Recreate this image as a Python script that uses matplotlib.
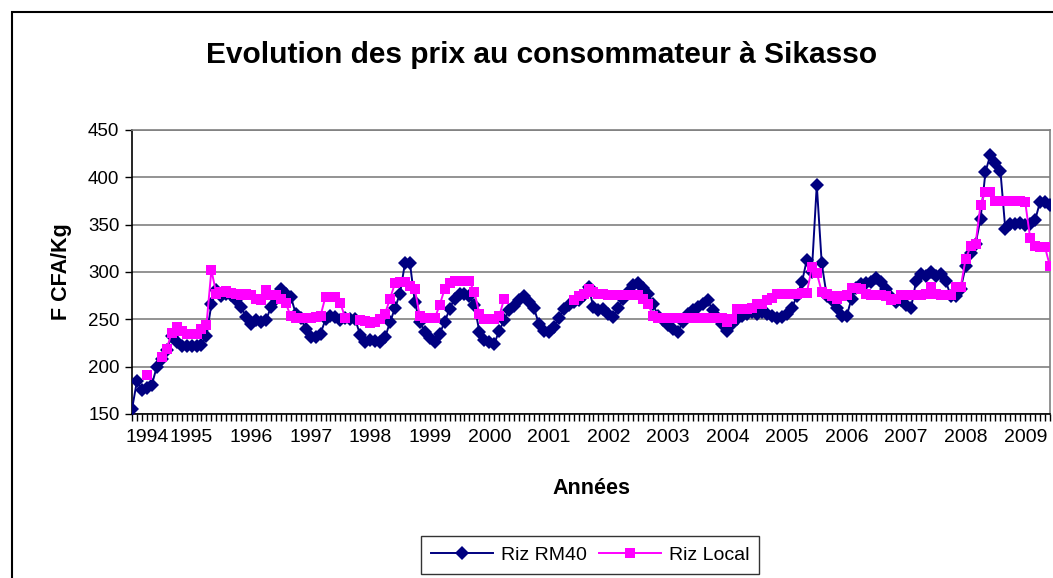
import numpy as np
import matplotlib
matplotlib.use("Agg")
import matplotlib.pyplot as plt
import matplotlib.transforms as mtransforms
from matplotlib.patches import Rectangle

nan = np.nan

years = [str(y) for y in range(1994, 2010)]

riz_rm40 = [
    155, 185, 175, 177, 181, 200, 208, 218, 232, 226, 222, 222,   # 1994
    222, 222, 223, 232, 266, 281, 275, 277, 276, 270, 263, 252,   # 1995
    245, 249, 247, 249, 263, 272, 282, 277, 274, 256, 251, 240,   # 1996
    231, 231, 235, 250, 254, 252, 249, 251, 250, 250, 233, 226,   # 1997
    228, 227, 226, 231, 247, 262, 277, 309, 310, 268, 247, 237,   # 1998
    230, 226, 235, 247, 261, 272, 277, 277, 275, 265, 237, 228,   # 1999
    226, 224, 238, 249, 260, 264, 270, 275, 268, 262, 245, 238,   # 2000
    237, 242, 251, 261, 265, 268, 270, 276, 284, 263, 260, 261,   # 2001
    256, 252, 262, 272, 279, 286, 288, 283, 277, 266, 254, 249,   # 2002
    244, 240, 237, 247, 256, 260, 263, 266, 270, 260, 251, 245,   # 2003
    238, 245, 250, 254, 256, 258, 256, 258, 256, 254, 251, 252,   # 2004
    256, 262, 275, 289, 313, 300, 392, 309, 275, 270, 262, 253,   # 2005
    253, 272, 283, 287, 288, 289, 294, 289, 282, 274, 268, 270,   # 2006
    265, 262, 290, 298, 296, 300, 296, 298, 290, 275, 275, 282,   # 2007
    306, 320, 330, 356, 406, 424, 415, 407, 345, 351, 351, 352,   # 2008
    350, 351, 355, 374, 374, 371,                                 # 2009
]

riz_local = [
    nan, nan, nan, 191, nan, nan, 210, 219, 236, 242, 238, 235,   # 1994
    234, 235, 240, 244, 302, 277, 279, 280, 278, 277, 276, 277,   # 1995
    276, 272, 270, 281, 276, 276, 272, 267, 253, 251, 251, 251,   # 1996
    251, 252, 254, 274, 274, 274, 267, 251, nan, nan, 249, 248,   # 1997
    246, 247, 250, 256, 272, 288, 289, 289, 285, 282, 253, 251,   # 1998
    251, 251, 265, 282, 288, 290, 290, 290, 290, 279, 256, 250,   # 1999
    250, 250, 253, 272, nan, nan, nan, nan, nan, nan, nan, nan,   # 2000
    nan, nan, nan, nan, nan, 270, 275, 277, 282, 279, 277, 277,   # 2001
    276, 276, 276, 276, 276, 276, 276, 271, 266, 254, 251, 251,   # 2002
    251, 251, 251, 251, 251, 251, 251, 251, 251, 251, 251, 251,   # 2003
    247, 250, 261, 261, 261, 262, 266, 266, 270, 273, 277, 277,   # 2004
    277, 277, 277, 278, 278, 305, 299, 279, 277, 275, 272, 275,   # 2005
    276, 283, 283, 282, 277, 276, 276, 276, 275, 270, 272, 276,   # 2006
    276, 276, 276, 276, 277, 284, 277, 276, 276, 276, 284, 284,   # 2007
    314, 327, 330, 371, 385, 384, 375, 375, 375, 375, 375, 375,   # 2008
    374, 336, 327, 326, 326, 306,                                 # 2009
]

series_names = ["Riz RM40", "Riz Local"]
title = "Evolution des prix au consommateur à Sikasso"
xlabel = "Années"
ylabel = "F CFA/Kg"

plt.rcParams['font.family'] = ['Liberation Sans', 'DejaVu Sans']

W, H = 1053, 578
fig = plt.figure(figsize=(W / 100, H / 100), dpi=100)

# chart area border (left and top visible)
fig.patches.append(Rectangle((12 / W, -0.1), 1.2, 1 - 12 / H + 0.1,
                             transform=fig.transFigure, fill=False,
                             edgecolor='black', linewidth=1.5))

left, right, top, bottom = 132, 1050, 130, 414
ax = fig.add_axes([left / W, 1 - bottom / H, (right - left) / W, (bottom - top) / H])

x = np.arange(len(riz_rm40))
ax.plot(x, riz_rm40, color='#000080', linewidth=1.4, marker='D',
        markersize=7, markeredgewidth=0, label=series_names[0], zorder=3)
ax.plot(x, riz_local, color='#FF00FF', linewidth=1.4, marker='s',
        markersize=7.5, markeredgewidth=0, label=series_names[1], zorder=4)

ax.set_xlim(0, len(riz_rm40) - 1)
ax.set_ylim(150, 450)
ax.set_yticks(np.arange(150, 451, 50))
ax.yaxis.grid(True, color='#808080', linewidth=1.2)
ax.set_axisbelow(True)

ax.set_xticks(np.arange(0, len(riz_rm40), 12))
ax.set_xticklabels(years[:len(range(0, len(riz_rm40), 12))])
ax.set_xticks(np.arange(0, len(riz_rm40)), minor=True)
ax.tick_params(axis='x', which='both', direction='out', length=5, width=1, colors='black',
               labelsize=14, pad=6)
ax.tick_params(axis='y', which='major', direction='out', length=5, width=1,
               labelsize=13.5, pad=4)

# shift first year label like the reference
lbls = ax.get_xticklabels()
offset = mtransforms.ScaledTranslation(15 / 100, 0, fig.dpi_scale_trans)
lbls[0].set_transform(lbls[0].get_transform() + offset)

for s in ['top', 'right']:
    ax.spines[s].set_color('#808080')
    ax.spines[s].set_linewidth(1.2)
for s in ['left', 'bottom']:
    ax.spines[s].set_color('black')
    ax.spines[s].set_linewidth(1.2)

fig.text(542 / W, 1 - 55 / H, title, ha='center', va='center',
         fontsize=21.5, fontweight='bold')
fig.text((left + right) / 2 / W, 1 - 488 / H, xlabel, ha='center', va='center',
         fontsize=15.5, fontweight='bold')
fig.text(62 / W, 1 - 272 / H, ylabel, ha='center', va='center', rotation=90,
         fontsize=15.5, fontweight='bold')

leg = fig.legend(loc='center', bbox_to_anchor=(590 / W, 1 - 555 / H), ncol=2,
                 frameon=True, fancybox=False, edgecolor='black', fontsize=14,
                 handlelength=3.2, columnspacing=0.6, handletextpad=0.4,
                 borderpad=0.5, borderaxespad=0)
leg.get_frame().set_linewidth(1.0)

fig.savefig('out.png', dpi=100)
